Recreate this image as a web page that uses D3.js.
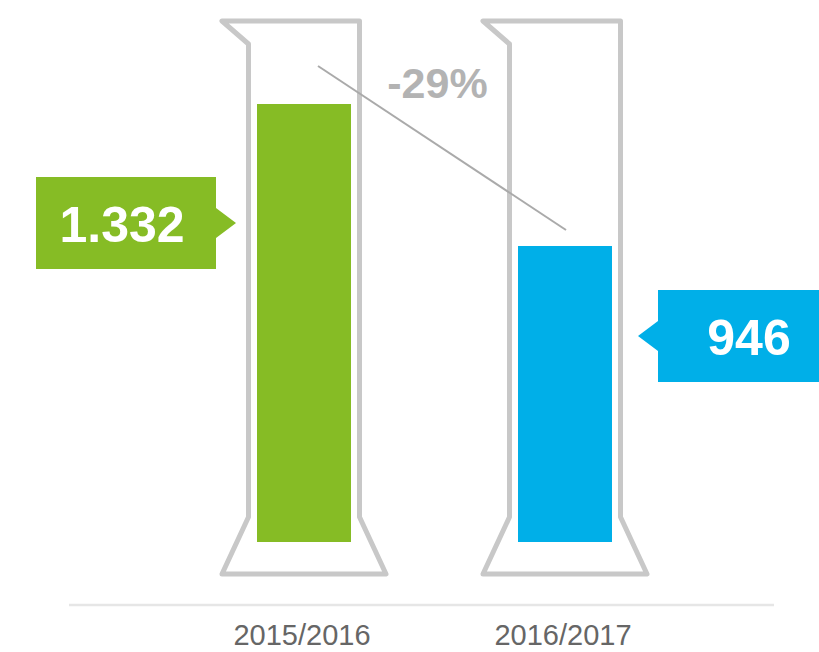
<!DOCTYPE html>
<html>
<head>
<meta charset="utf-8">
<script src="https://cdn.jsdelivr.net/npm/d3@7"></script>
<style>
  html, body { margin: 0; padding: 0; background: #ffffff; }
  svg { display: block; }
  text { font-family: "Liberation Sans", Arial, Helvetica, sans-serif; }
</style>
</head>
<body>
<svg id="chart" width="819" height="652"></svg>
<script>
// Season totals
const categories = ["2015/2016", "2016/2017"];
const values = [1332, 946];
const valueLabels = ["1.332", "946"];
const barColors = ["#86bc25", "#00afe8"];
const changeLabel = "-29%";

const svg = d3.select("#chart");

// Scales
const x = d3.scaleBand().domain(categories).range([173.5, 695.5]).padding(0);
const y = d3.scaleLinear().domain([0, 1332]).range([594, 104]);

// Geometry of the measuring cylinders
const rimY = 21, flareY = 517, baseY = 574, fillBottom = 542;
const wallHalf = 55.5, baseHalf = 82, spoutDrop = 23;
const barHalf = 47;

// Baseline
svg.append("line")
  .attr("x1", 69).attr("x2", 774)
  .attr("y1", 605).attr("y2", 605)
  .attr("stroke", "#e6e6e6").attr("stroke-width", 2.5);

const g = svg.append("g");

categories.forEach((c, i) => {
  const cx = x(c) + x.bandwidth() / 2;
  // liquid column
  g.append("rect")
    .attr("x", cx - barHalf)
    .attr("y", y(values[i]))
    .attr("width", barHalf * 2)
    .attr("height", fillBottom - y(values[i]))
    .attr("fill", barColors[i]);

  // cylinder outline with spout and flared foot
  const p = d3.path();
  p.moveTo(cx - baseHalf, rimY);
  p.lineTo(cx + wallHalf, rimY);
  p.lineTo(cx + wallHalf, flareY);
  p.lineTo(cx + baseHalf, baseY);
  p.lineTo(cx - baseHalf, baseY);
  p.lineTo(cx - wallHalf, flareY);
  p.lineTo(cx - wallHalf, rimY + spoutDrop);
  p.closePath();
  g.append("path")
    .attr("d", p.toString())
    .attr("fill", "none")
    .attr("stroke", "#c8c8c8")
    .attr("stroke-width", 5)
    .attr("stroke-linejoin", "round");

  // category label
  svg.append("text")
    .attr("x", cx - 2)
    .attr("y", 645)
    .attr("text-anchor", "middle")
    .attr("font-size", 29)
    .attr("fill", "#666666")
    .text(c);
});

// Value callouts: box + pointer toward the cylinder
function callout(i, boxX, boxY, side, dx) {
  const bw = 180, bh = 92, tip = 20, half = 15;
  const cy = boxY + bh / 2;
  const p = d3.path();
  if (side === "right") {
    p.moveTo(boxX, boxY);
    p.lineTo(boxX + bw, boxY);
    p.lineTo(boxX + bw, cy - half);
    p.lineTo(boxX + bw + tip, cy);
    p.lineTo(boxX + bw, cy + half);
    p.lineTo(boxX + bw, boxY + bh);
    p.lineTo(boxX, boxY + bh);
  } else {
    p.moveTo(boxX, boxY);
    p.lineTo(boxX + bw, boxY);
    p.lineTo(boxX + bw, boxY + bh);
    p.lineTo(boxX, boxY + bh);
    p.lineTo(boxX, cy + half);
    p.lineTo(boxX - tip, cy);
    p.lineTo(boxX, cy - half);
  }
  p.closePath();
  svg.append("path").attr("d", p.toString()).attr("fill", barColors[i]);
  svg.append("text")
    .attr("x", boxX + bw / 2 + dx)
    .attr("y", cy + 19)
    .attr("text-anchor", "middle")
    .attr("font-size", 50)
    .attr("font-weight", "bold")
    .attr("fill", "#ffffff")
    .text(valueLabels[i]);
}
const c0 = x(categories[0]) + x.bandwidth() / 2;
const c1 = x(categories[1]) + x.bandwidth() / 2;
callout(0, c0 - 268, y(values[0]) + 73, "right", -4);
callout(1, c1 + 93, y(values[1]) + 44, "left", 1);

// Trend line and percentage change
svg.append("line")
  .attr("x1", c0 + 14).attr("y1", y(values[0]) - 38)
  .attr("x2", c1 + 1).attr("y2", y(values[1]) - 16)
  .attr("stroke", "#aaaaaa").attr("stroke-width", 2);

svg.append("text")
  .attr("x", (c0 + c1) / 2 + 3)
  .attr("y", 98)
  .attr("text-anchor", "middle")
  .attr("font-size", 43)
  .attr("font-weight", "bold")
  .attr("fill", "#b3b3b3")
  .text(changeLabel);
</script>
</body>
</html>
